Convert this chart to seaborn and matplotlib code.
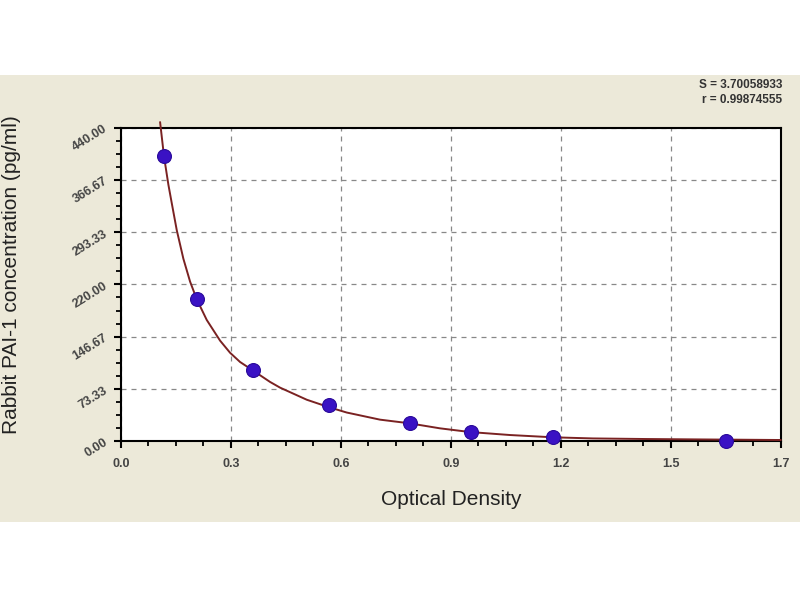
import pandas as pd
import matplotlib
matplotlib.use("Agg")
import matplotlib.pyplot as plt
from matplotlib.patches import Rectangle
from matplotlib.ticker import AutoMinorLocator
import seaborn as sns

# Standard points (optical density vs concentration)
od = [0.110, 0.196, 0.341, 0.537, 0.745, 0.902, 1.113, 1.558]
conc = [400, 200, 100, 50, 25, 12.5, 6.25, 0]

# Fitted curve
curve_od = [0.1012, 0.1115, 0.1226, 0.1313, 0.1442, 0.1612, 0.1784, 0.1957,
            0.2214, 0.2557, 0.2814, 0.3072, 0.3414, 0.3844, 0.4101, 0.4789,
            0.5371, 0.5819, 0.6676, 0.7430, 0.8221, 0.8993, 1.0023, 1.113,
            1.216, 1.35, 1.492, 1.70]
curve_conc = [448, 399, 360, 334, 296, 256, 224, 199,
              170, 141, 124, 111, 98.7, 83, 75, 58,
              47.3, 40, 30, 24.9, 17.8, 12.6, 8.4, 5.2,
              3.6, 2.8, 2.2, 1.4]

x_ticks = [0.0, 1.7 / 6, 1.7 * 2 / 6, 1.7 * 3 / 6, 1.7 * 4 / 6, 1.7 * 5 / 6, 1.7]
x_labels = ["0.0", "0.3", "0.6", "0.9", "1.2", "1.5", "1.7"]
y_ticks = [0, 73.33, 146.67, 220.0, 293.33, 366.67, 440.0]
y_labels = ["0.00", "73.33", "146.67", "220.00", "293.33", "366.67", "440.00"]

points = pd.DataFrame({"OD": od, "Conc": conc})
curve = pd.DataFrame({"OD": curve_od, "Conc": curve_conc})

sns.set_style("white")
plt.rcParams["font.family"] = ["Liberation Sans", "DejaVu Sans"]

fig = plt.figure(figsize=(8, 6), dpi=100)
# beige panel behind the plot
fig.patches.append(Rectangle((0, 0.13), 1, 0.745, transform=fig.transFigure,
                             facecolor="#ECE9D9", edgecolor="none", zorder=-10))
ax = fig.add_axes([0.151, 0.265, 0.825, 0.522])
ax.set_zorder(5)
ax.set_facecolor("white")

sns.lineplot(data=curve, x="OD", y="Conc", ax=ax, color="#7a2222", linewidth=1.4,
             sort=False, zorder=3, clip_on=False)
sns.scatterplot(data=points, x="OD", y="Conc", ax=ax, color="#3a12c4", s=100,
                marker="o", edgecolor="#2a0a9a", linewidth=0.8, zorder=4, clip_on=False)

ax.set_xlim(0, 1.7)
ax.set_ylim(0, 440)
ax.set_xticks(x_ticks)
ax.set_xticklabels(x_labels, fontweight="bold")
ax.set_yticks(y_ticks)
ax.set_yticklabels(y_labels, rotation=32, fontweight="bold")
ax.xaxis.set_minor_locator(AutoMinorLocator(4))
ax.yaxis.set_minor_locator(AutoMinorLocator(4))
ax.tick_params(axis="both", which="both", bottom=True, left=True, top=False, right=False)
ax.tick_params(axis="both", which="major", direction="out", length=5, width=1.5,
               color="black", labelsize=9, labelcolor="#444444")
ax.tick_params(axis="both", which="minor", direction="out", length=3.5, width=1.3,
               color="black")
ax.tick_params(axis="x", pad=7)
ax.tick_params(axis="y", pad=3)

ax.grid(True, which="major", linestyle=(0, (4, 4)), color="#888888", linewidth=0.9)
for side in ax.spines.values():
    side.set_color("black")
    side.set_linewidth(1.5)

ax.set_xlabel("Optical Density", fontsize=15, color="#222222")
ax.set_ylabel("Rabbit PAI-1 concentration (pg/ml)", fontsize=15, color="#222222")
ax.xaxis.set_label_coords(0.5, -0.188)
ax.yaxis.set_label_coords(-0.165, 0.53)
ax.yaxis.label.set_va("center")
ax.xaxis.label.set_va("center")

fig.text(0.978, 0.858, "S = 3.70058933", ha="right", va="center", fontsize=8.5,
         fontweight="bold", color="#333333")
fig.text(0.978, 0.833, "r = 0.99874555", ha="right", va="center", fontsize=8.5,
         fontweight="bold", color="#333333")

plt.savefig("out.png", dpi=100, facecolor="white")
